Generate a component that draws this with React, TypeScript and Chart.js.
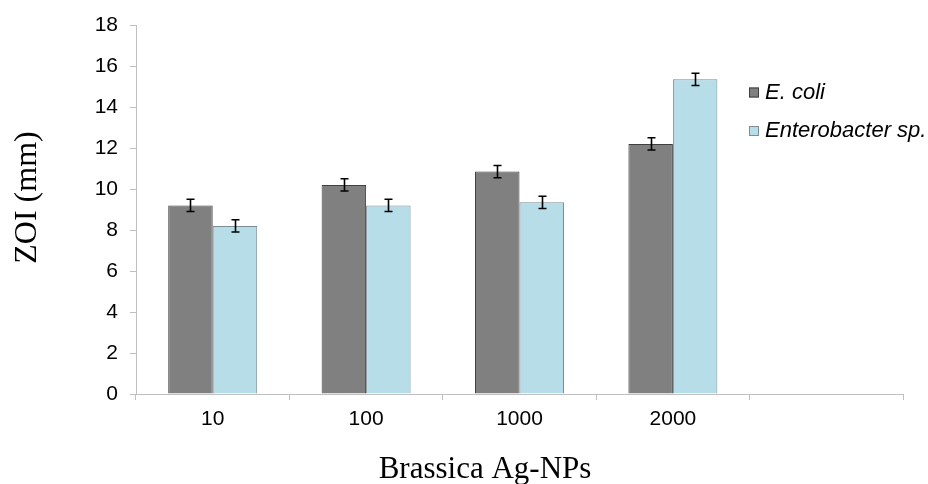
import React, { useEffect, useRef } from "react";
import { Chart, registerables } from "chart.js";

Chart.register(...registerables);

const categories = ["10", "100", "1000", "2000", ""];
const seriesNames = ["E. coli", "Enterobacter sp."];
const ecoliValues = [9.2, 10.2, 10.85, 12.2, null];
const enterobacterValues = [8.2, 9.2, 9.35, 15.35, null];
const ecoliErrors = [0.3, 0.3, 0.3, 0.3, null];
const enterobacterErrors = [0.3, 0.3, 0.3, 0.3, null];
const yTicks = [0, 2, 4, 6, 8, 10, 12, 14, 16, 18];
const xTitle = "Brassica Ag-NPs";
const yTitle = "ZOI (mm)";

const errorsBySeries = [ecoliErrors, enterobacterErrors];

const errorBarPlugin = {
  id: "errorBars",
  afterDatasetsDraw(chart: any) {
    const ctx = chart.ctx;
    const y = chart.scales.y;
    chart.data.datasets.forEach((ds: any, di: number) => {
      const meta = chart.getDatasetMeta(di);
      meta.data.forEach((el: any, i: number) => {
        const v = ds.data[i];
        const e = errorsBySeries[di][i];
        if (v == null || e == null) return;
        const top = y.getPixelForValue(v + e);
        const bot = y.getPixelForValue(v - e);
        const x = Math.round(el.x) + 0.5;
        ctx.save();
        ctx.strokeStyle = "#000";
        ctx.lineWidth = 1.6;
        ctx.beginPath();
        ctx.moveTo(x, top);
        ctx.lineTo(x, bot);
        ctx.moveTo(x - 4, top);
        ctx.lineTo(x + 4, top);
        ctx.moveTo(x - 4, bot);
        ctx.lineTo(x + 4, bot);
        ctx.stroke();
        ctx.restore();
      });
    });
  },
};

const annotationPlugin = {
  id: "annotations",
  afterDraw(chart: any) {
    const ctx = chart.ctx;
    ctx.save();
    // legend
    const legendRows = [92.5, 131];
    chart.data.datasets.forEach((ds: any, i: number) => {
      const cy = legendRows[i];
      ctx.fillStyle = ds.backgroundColor;
      ctx.strokeStyle = ds.borderColor;
      ctx.lineWidth = 1;
      ctx.fillRect(749, cy - 5, 10, 10);
      ctx.strokeRect(749.5, cy - 4.5, 9, 9);
      ctx.fillStyle = "#000";
      ctx.font = "italic 22px 'Liberation Sans', Arial, sans-serif";
      ctx.textAlign = "left";
      ctx.textBaseline = "middle";
      ctx.fillText(ds.label, 765, cy);
    });
    // x title
    ctx.fillStyle = "#000";
    ctx.font = "31px 'Liberation Serif', 'Times New Roman', serif";
    ctx.textAlign = "center";
    ctx.textBaseline = "alphabetic";
    ctx.fillText(xTitle, 485, 478);
    // y title
    ctx.translate(36, 197.5);
    ctx.rotate(-Math.PI / 2);
    ctx.font = "32px 'Liberation Serif', 'Times New Roman', serif";
    ctx.fillText(yTitle, 0, 0);
    ctx.restore();
  },
};

export default function App() {
  const ref = useRef<HTMLCanvasElement | null>(null);
  useEffect(() => {
    if (!ref.current) return;
    const chart = new Chart(ref.current, {
      type: "bar",
      data: {
        labels: categories,
        datasets: [
          {
            label: seriesNames[0],
            data: ecoliValues,
            backgroundColor: "#808080",
            borderColor: "#3f3f3f",
            borderWidth: 1,
          },
          {
            label: seriesNames[1],
            data: enterobacterValues,
            backgroundColor: "#b7dde8",
            borderColor: "#7c8c92",
            borderWidth: 1,
          },
        ],
      },
      options: {
        responsive: false,
        animation: false,
        devicePixelRatio: 1,
        layout: { padding: { top: 25, right: 25, left: 0, bottom: 0 } },
        plugins: { legend: { display: false }, tooltip: { enabled: false } },
        datasets: { bar: { categoryPercentage: 0.58, barPercentage: 1 } },
        scales: {
          x: {
            grid: {
              offset: true,
              drawOnChartArea: false,
              drawTicks: true,
              tickLength: 6,
              color: "#bfbfbf",
            },
            border: { color: "#bfbfbf", width: 1 },
            ticks: {
              color: "#000",
              padding: 7,
              maxRotation: 0,
              font: { family: "'Liberation Sans', Arial, sans-serif", size: 21 },
            },
            afterFit(scale: any) {
              scale.height = 90;
            },
          },
          y: {
            min: 0,
            max: 18,
            afterBuildTicks(scale: any) {
              scale.ticks = yTicks.map((v) => ({ value: v }));
            },
            grid: {
              drawOnChartArea: false,
              drawTicks: true,
              tickLength: 6,
              color: "#bfbfbf",
            },
            border: { color: "#bfbfbf", width: 1 },
            ticks: {
              color: "#000",
              padding: 12,
              font: { family: "'Liberation Sans', Arial, sans-serif", size: 21 },
            },
            afterFit(scale: any) {
              scale.width = 136;
            },
          },
        },
      },
      plugins: [errorBarPlugin, annotationPlugin],
    } as any);
    return () => chart.destroy();
  }, []);
  return (
    <div style={{ position: "absolute", left: 0, top: 0, width: 928, height: 484, background: "#fff" }}>
      <canvas ref={ref} width={928} height={484} style={{ display: "block" }} />
    </div>
  );
}
